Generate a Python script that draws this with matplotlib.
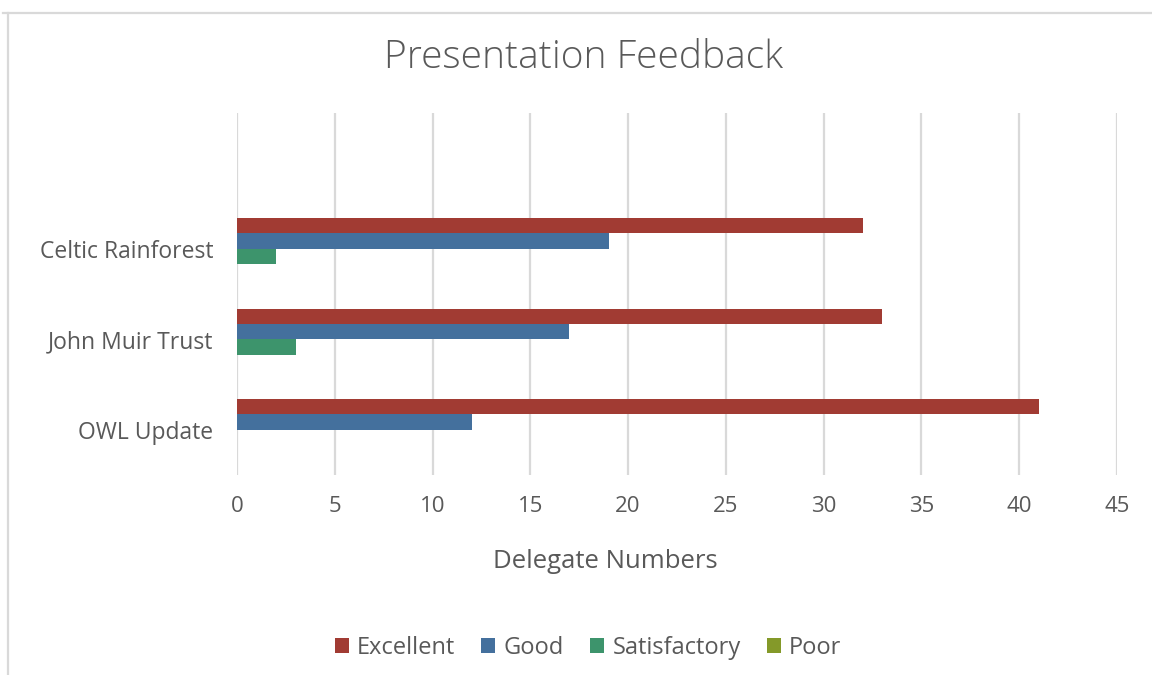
import matplotlib
matplotlib.use('Agg')
import matplotlib.pyplot as plt
import numpy as np
from matplotlib.lines import Line2D
from matplotlib.patches import Patch

plt.rcParams['font.family'] = ['Open Sans', 'DejaVu Sans']

categories = ['OWL Update', 'John Muir Trust', 'Celtic Rainforest']
series = ['Excellent', 'Good', 'Satisfactory', 'Poor']
excellent = [41, 33, 32]
good = [12, 17, 19]
satisfactory = [0, 3, 2]
poor = [0, 0, 0]
colors = ['#A13B33', '#44709D', '#3D946C', '#849929']

text_col = '#595959'
grid_col = '#D9D9D9'

fig = plt.figure(figsize=(11.52, 6.75), dpi=100)
ax = fig.add_axes([237 / 1152, 1 - 475 / 675, 880 / 1152, 362 / 675])

y = np.arange(len(categories))
h = 0.169
offsets = [1.5 * h, 0.5 * h, -0.5 * h, -1.5 * h]
for vals, off, col, name in zip([excellent, good, satisfactory, poor], offsets, colors, series):
    ax.barh(y + off, vals, height=h, color=col, linewidth=0, label=name, zorder=3)

ax.set_xlim(0, 45)
ax.set_ylim(-0.5, 3.5)
ax.set_xticks(np.arange(0, 46, 5))
ax.set_yticks(y)
ax.set_yticklabels(categories)
ax.grid(axis='x', color=grid_col, linewidth=1.6, zorder=0)
ax.tick_params(axis='x', length=0, colors=text_col, labelsize=16, pad=15)
ax.tick_params(axis='y', length=0, colors=text_col, labelsize=16.5, pad=17)
for s in ax.spines.values():
    s.set_visible(False)

fig.text(584 / 1152, 1 - 58 / 675, 'Presentation Feedback', ha='center', va='center',
         fontsize=28, color=text_col, fontweight='light')
fig.text(605 / 1152, 1 - 561 / 675, 'Delegate Numbers', ha='center', va='center',
         fontsize=18.5, color=text_col)

# chart frame (extends past the image edges)
fig.add_artist(Line2D([3 / 1152, 1], [1 - 13 / 675] * 2, color=grid_col, lw=1.6))
fig.add_artist(Line2D([8 / 1152] * 2, [0, 1 - 13 / 675], color=grid_col, lw=1.6))

handles = [Patch(facecolor=c, edgecolor='none') for c in colors]
fig.legend(handles, series, loc='center', bbox_to_anchor=(588 / 1152, 1 - 648 / 675), ncol=4,
           frameon=False, fontsize=17, labelcolor=text_col, handlelength=0.6, handleheight=0.6,
           handletextpad=0.35, columnspacing=1.1)

fig.savefig('out.png', dpi=100)
